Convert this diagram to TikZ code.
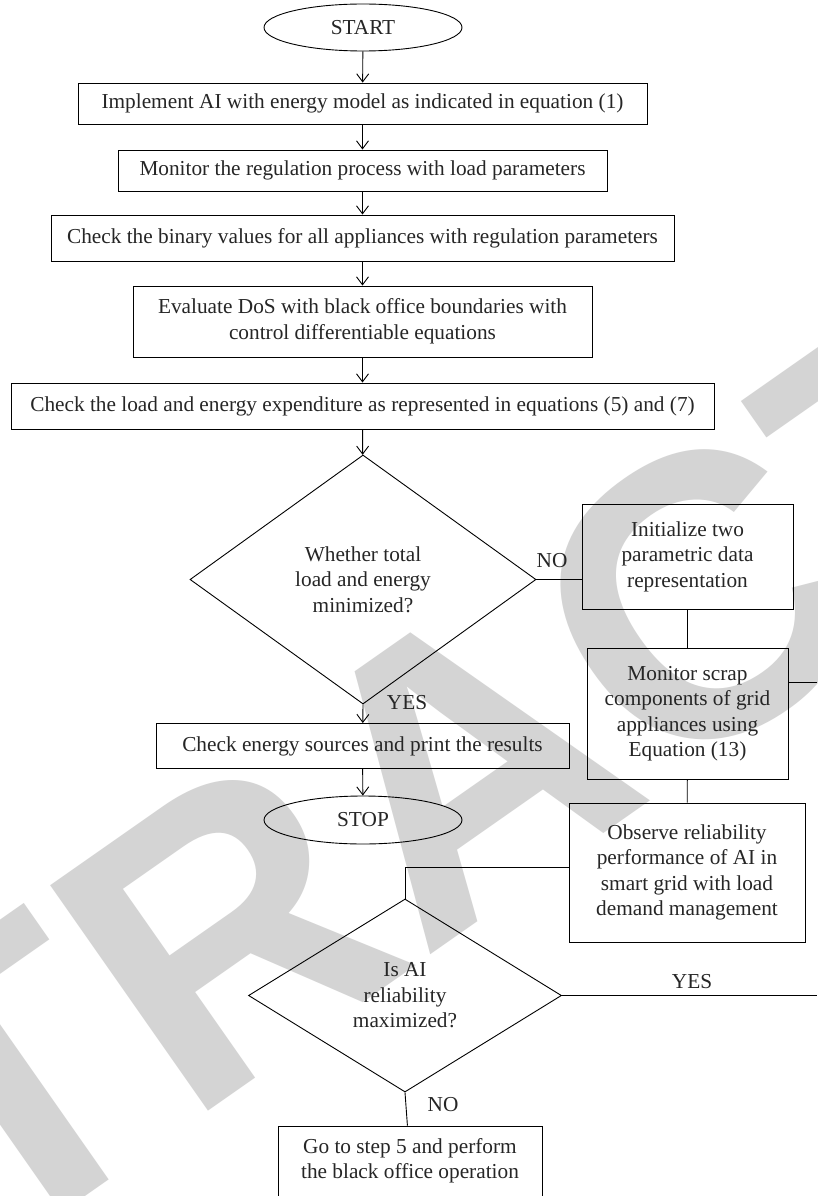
\documentclass[tikz,border=0pt]{standalone}
\usepackage{fontspec}
\setmainfont{Liberation Serif}
\setsansfont{Liberation Sans}
\usetikzlibrary{shapes.geometric,arrows.meta,calc}
\tikzset{
  base/.style={draw=black, line width=0.9pt, inner sep=0pt, align=center,
    font=\fontsize{21.3}{25.5}\selectfont, text=black!85},
  procbox/.style={base, rectangle},
  termin/.style={base, ellipse},
  decide/.style={base, diamond},
  conn/.style={line width=0.9pt, draw=black},
  arr/.style={conn, -{Straight Barb[length=8pt,width=12pt]}},
  lbl/.style={font=\fontsize{21.3}{24}\selectfont, text=black!85, inner sep=0pt},
  stamp/.style={text=black!17, font=\fontsize{400}{400}\selectfont\sffamily\bfseries, inner sep=0pt}
}
\begin{document}
\begin{tikzpicture}[x=1pt,y=-1pt]
\useasboundingbox (0,0) rectangle (817,1196);
\fill[white] (0,0) rectangle (817,1196);
% watermark
\node[stamp, rotate=35] (wm) at (462,765) {RETRACTED};

\node[termin, minimum width=198pt, minimum height=47pt] (start) at (363,27.5) {START};
\node[procbox, minimum width=569pt, minimum height=41pt] (n1) at (362.5,103.5) {Implement AI with energy model as indicated in equation (1)};
\node[procbox, minimum width=489pt, minimum height=41pt] (n2) at (362.5,170.5) {Monitor the regulation process with load parameters};
\node[procbox, minimum width=623pt, minimum height=46pt] (n3) at (362.5,238) {Check the binary values for all appliances with regulation parameters};
\node[procbox, minimum width=459pt, minimum height=71pt] (n4) at (362.5,321.5) {Evaluate DoS with black office boundaries with\\control differentiable equations};
\node[procbox, minimum width=703pt, minimum height=46pt] (n5) at (362.5,406) {Check the load and energy expenditure as represented in equations (5) and (7)};
\node[decide, minimum width=346pt, minimum height=249pt] (d1) at (363,579.5) {Whether total\\load and energy\\minimized?};
\node[procbox, minimum width=413pt, minimum height=45pt] (n6) at (362.5,746) {Check energy sources and print the results};
\node[termin, minimum width=198pt, minimum height=48pt] (stop) at (363,820) {STOP};

\node[procbox, minimum width=211pt, minimum height=105pt] (init) at (687.5,556.5) {Initialize two\\parametric data\\representation};
\node[procbox, minimum width=201pt, minimum height=131pt] (scrap) at (687.5,713.5) {Monitor scrap\\components of grid\\appliances using\\Equation (13)};
\node[procbox, minimum width=236pt, minimum height=139pt] (obs) at (687,872.5) {Observe reliability\\performance of AI in\\smart grid with load\\demand management};
\node[decide, minimum width=313pt, minimum height=193pt] (d2) at (405,995.5) {Is AI\\reliability\\maximized?};
\node[procbox, minimum width=264pt, minimum height=70pt] (goto) at (410,1161) {Go to step 5 and perform\\the black office operation};

\coordinate (scrapout) at (817,682);
\coordinate (yesout) at (817,995.5);

% main flow
\draw[arr] (start) -- (n1);
\draw[arr] (n1) -- (n2);
\draw[arr] (n2) -- (n3);
\draw[arr] (n3) -- (n4);
\draw[arr] (n4) -- (n5);
\draw[arr] (n5) -- (d1);
\draw[arr] (d1.south) -- (n6);
\draw[arr] (n6) -- (stop);

% NO branch
\draw[conn] (d1.east) -- (d1.east -| init.west);
\draw[conn] (init) -- (scrap);
\draw[conn] (scrap) -- (obs);
\draw[conn] (scrapout -| scrap.east) -- (scrapout);
\draw[conn] ([yshift=5pt]obs.west) -| (d2.north);
\draw[conn] (d2.east) -- (yesout);
\draw[conn] (d2.south) -- (goto);

% labels
\node[lbl] (lno1) at (552,561) {NO};
\node[lbl] (lyes1) at (407,703) {YES};
\node[lbl] (lyes2) at (692,982) {YES};
\node[lbl] (lno2) at (443,1105) {NO};
\end{tikzpicture}
\end{document}
